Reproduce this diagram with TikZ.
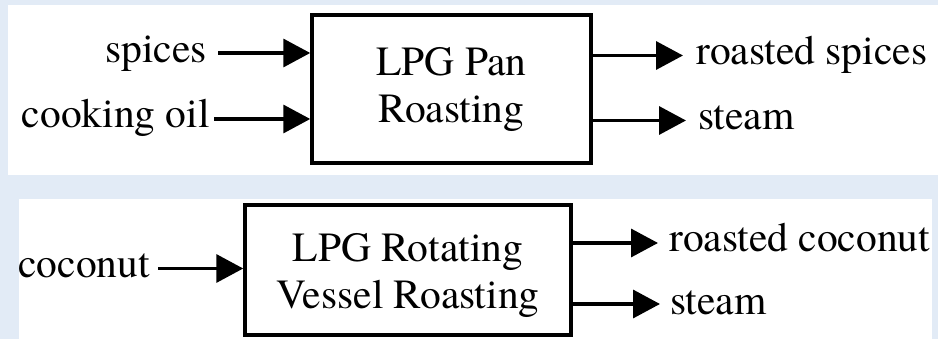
\documentclass[tikz,border=0pt]{standalone}
\usepackage{fontspec}
\setmainfont{texgyretermes}[Extension=.otf, UprightFont=*-regular, BoldFont=*-bold]
\usetikzlibrary{arrows.meta}
\definecolor{bgblue}{RGB}{226,235,246}
\tikzset{
  panel/.style={fill=white, draw=none},
  procbox/.style={draw=black, line width=3.5pt, fill=white, inner sep=0pt},
  boxtext/.style={align=center, inner sep=0pt, font=\rmfamily\fontsize{41.5}{47}\selectfont},
  lbl/.style={inner sep=0pt, font=\rmfamily\fontsize{41.5}{47}\selectfont},
  arr/.style={line width=3.5pt, -{Triangle[length=27pt,width=28pt]}}
}
\begin{document}
\begin{tikzpicture}[x=1pt,y=-1pt]
\useasboundingbox (0,0) rectangle (938,339);
\fill[bgblue] (0,0) rectangle (938,339);
\fill[panel] (8,5) rectangle (938,175);
\fill[panel] (19,199) rectangle (932,339);
% top process
\node[procbox, minimum width=279pt, minimum height=148pt] (b1) at (451.5,89) {};
\node[boxtext] (t1) at (451.5,89) {LPG Pan\\Roasting};
\node[lbl, anchor=base east] (spices) at (207,63) {spices};
\node[lbl, anchor=base east] (oil) at (210,128) {cooking oil};
\node[lbl, anchor=base west] (rspices) at (696,65) {roasted spices};
\node[lbl, anchor=base west] (steam1) at (698,130) {steam};
\coordinate (s1) at (218,53);
\coordinate (s2) at (214,119);
\coordinate (o1) at (591,55.5);
\coordinate (o2) at (591,120.5);
\coordinate (e1) at (683,55.5);
\coordinate (e2) at (686,120.5);
\draw[arr] (s1) -- (s1 -| b1.west);
\draw[arr] (s2) -- (s2 -| b1.west);
\draw[arr] (o1) -- (e1);
\draw[arr] (o2) -- (e2);
% bottom process
\node[procbox, minimum width=326pt, minimum height=130pt] (b2) at (408,270) {};
\node[boxtext] (t2) at (408,275) {LPG Rotating\\Vessel Roasting};
\node[lbl, anchor=base east] (coconut) at (150,278) {coconut};
\node[lbl, anchor=base west] (rcoconut) at (669,252) {roasted coconut};
\node[lbl, anchor=base west] (steam2) at (670,315) {steam};
\coordinate (c1) at (158,268.5);
\coordinate (p1) at (571,243);
\coordinate (p2) at (571,304);
\coordinate (f1) at (658,243);
\coordinate (f2) at (660,304);
\draw[arr] (c1) -- (c1 -| b2.west);
\draw[arr] (p1) -- (f1);
\draw[arr] (p2) -- (f2);
\end{tikzpicture}
\end{document}
